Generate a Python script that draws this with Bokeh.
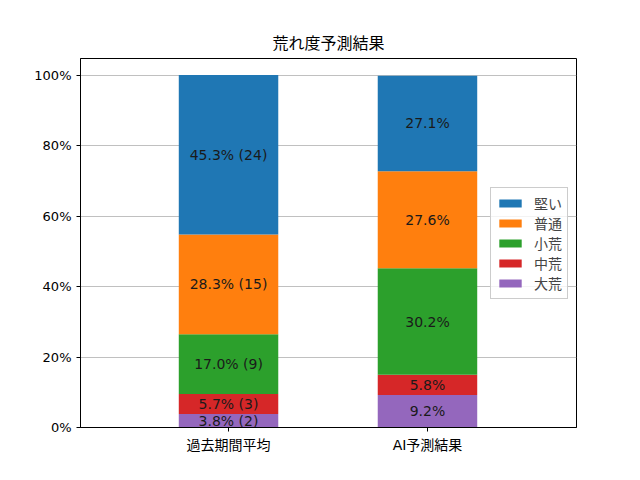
from bokeh.plotting import figure
from bokeh.models import (ColumnDataSource, Legend, LegendItem, FixedTicker,
                          PrintfTickFormatter, Range1d)
from bokeh.core.properties import value
from bokeh.embed import file_html
from bokeh.resources import INLINE

categories = ["過去期間平均", "AI予測結果"]
series = ["大荒", "中荒", "小荒", "普通", "堅い"]  # bottom to top
colors = ["#9467bd", "#d62728", "#2ca02c", "#ff7f0e", "#1f77b4"]
past_pct = [3.8, 5.7, 17.0, 28.3, 45.3]
past_cnt = [2, 3, 9, 15, 24]
ai_pct = [9.2, 5.8, 30.2, 27.6, 27.1]
y_ticks = [0, 20, 40, 60, 80, 100]

FONT = "DejaVu Sans, Noto Sans CJK JP"
CJK = "Noto Sans CJK JP"

xs = [0, 1]
data = {"x": xs}
for i, s in enumerate(series):
    data[s] = [past_pct[i], ai_pct[i]]
src = ColumnDataSource(data)

p = figure(width=632, height=472, output_backend="svg", toolbar_location=None,
           x_range=Range1d(-0.744, 1.749), y_range=Range1d(0, 104.8),
           min_border_left=80, min_border_right=56, min_border_top=58,
           min_border_bottom=45, title="荒れ度予測結果")

rs = p.vbar_stack(series, x="x", width=0.5, color=colors, source=src,
                  line_color=None)

# segment labels
lx, ly, lt = [], [], []
for bi, (pcts, cnts) in enumerate([(past_pct, past_cnt), (ai_pct, None)]):
    base = 0.0
    for i, v in enumerate(pcts):
        lx.append(xs[bi])
        ly.append(base + v / 2)
        lt.append(f"{v:.1f}% ({cnts[i]})" if cnts else f"{v:.1f}%")
        base += v
p.text(x=lx, y=ly, text=lt, text_align="center", text_baseline="middle",
       text_font=value(FONT), text_font_size="14px", text_color="#1a1a1a")

items = [LegendItem(label=series[i], renderers=[rs[i]]) for i in reversed(range(len(series)))]
legend = Legend(items=items, location="center_right", margin=8,
                label_text_font=CJK, label_text_font_size="14px",
                glyph_width=28, glyph_height=10, label_height=18,
                label_standoff=10, spacing=0, padding=5,
                border_line_color="#cccccc",
                border_line_alpha=1.0, background_fill_alpha=0.8)
p.add_layout(legend)

p.title.align = "center"
p.title.text_font = CJK
p.title.text_font_size = "16px"
p.title.text_font_style = "normal"
p.title.text_color = "black"

p.xaxis.ticker = FixedTicker(ticks=xs)
p.xaxis.major_label_overrides = {0: categories[0], 1: categories[1]}
p.yaxis.ticker = FixedTicker(ticks=y_ticks)
p.yaxis.formatter = PrintfTickFormatter(format="%d%%")
for ax in (p.xaxis, p.yaxis):
    ax.major_label_text_font = FONT
    ax.major_label_text_font_size = "13px"
    ax.major_label_text_color = "black"
    ax.major_tick_in = 0
    ax.major_tick_out = 4
    ax.minor_tick_line_color = None
    ax.axis_line_color = "black"
    ax.major_tick_line_color = "black"
p.xaxis.major_label_text_font_size = "14px"

p.xgrid.grid_line_color = None
p.ygrid.grid_line_color = "#b0b0b0"
p.ygrid.grid_line_width = 0.8
p.outline_line_color = "black"
p.outline_line_alpha = 1.0

open("out.html", "w").write(file_html(p, INLINE))
